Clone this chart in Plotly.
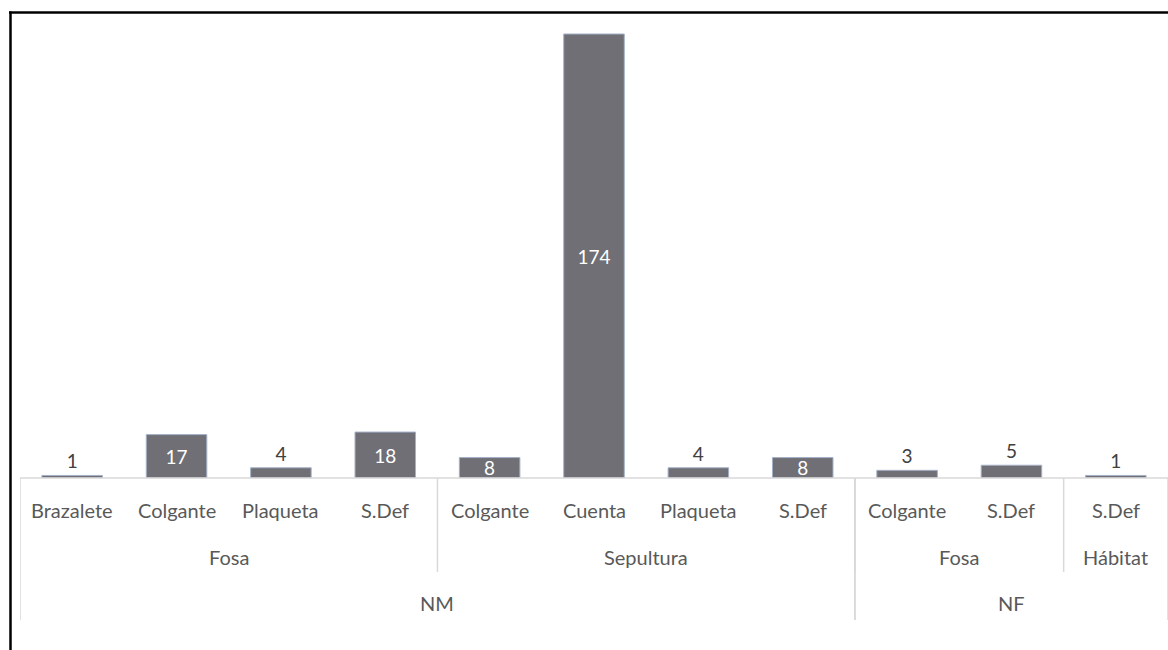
import plotly.graph_objects as go

# Three-level category hierarchy and counts
nivel_1 = ["NM"] * 8 + ["NF"] * 3
nivel_2 = ["Fosa"] * 4 + ["Sepultura"] * 4 + ["Fosa", "Fosa", "Hábitat"]
tipo = ["Brazalete", "Colgante", "Plaqueta", "S.Def",
        "Colgante", "Cuenta", "Plaqueta", "S.Def",
        "Colgante", "S.Def", "S.Def"]
valores = [1, 17, 4, 18, 8, 174, 4, 8, 3, 5, 1]

W, H = 1168, 650
M_L, M_R, M_T, M_B = 20, 0, 14, 172
plot_h = H - M_T - M_B
FONT = "Lato"
GRID = "#d9d9d9"
TXT = "#595959"
LBL_SIZE = 20


def py(pixel_y):
    # pixel row -> paper y
    return (H - M_B - pixel_y) / plot_h


def grupos(labels, keys):
    # contiguous runs of identical keys -> (label, first index, last index)
    out = []
    start = 0
    for i in range(1, len(keys) + 1):
        if i == len(keys) or keys[i] != keys[start]:
            out.append((labels[start], start, i - 1))
            start = i
    return out


x = list(range(len(valores)))
pos = ["inside" if v >= 8 else "outside" for v in valores]

fig = go.Figure(go.Bar(
    x=x, y=valores, width=0.58,
    marker=dict(color="#6f6f75", line=dict(color="#a3b1c6", width=1)),
    text=[str(v) for v in valores], textposition=pos, textangle=0,
    insidetextanchor="middle", constraintext="none",
    insidetextfont=dict(family=FONT, size=19, color="#ffffff"),
    outsidetextfont=dict(family=FONT, size=19, color="#404040"),
    cliponaxis=False, hoverinfo="skip",
))

annotations = []
shapes = []

# level 1: item labels
for i, t in enumerate(tipo):
    annotations.append(dict(x=i, y=py(510), xref="x", yref="paper", text=t,
                            showarrow=False, yanchor="middle",
                            font=dict(family=FONT, size=LBL_SIZE, color=TXT)))

# level 2: context labels (grouped within level-3 blocks)
keys2 = [a + "|" + b for a, b in zip(nivel_1, nivel_2)]
for lab, a, b in grupos(nivel_2, keys2):
    annotations.append(dict(x=(a + b) / 2, y=py(557), xref="x", yref="paper",
                            text=lab, showarrow=False, yanchor="middle",
                            font=dict(family=FONT, size=LBL_SIZE, color=TXT)))
    if a > 0:
        shapes.append(dict(type="line", xref="x", yref="paper",
                           x0=a - 0.5, x1=a - 0.5, y0=py(478), y1=py(572),
                           line=dict(color=GRID, width=1.5)))

# level 3: site labels
for lab, a, b in grupos(nivel_1, nivel_1):
    annotations.append(dict(x=(a + b) / 2, y=py(603), xref="x", yref="paper",
                            text=lab, showarrow=False, yanchor="middle",
                            font=dict(family=FONT, size=LBL_SIZE, color=TXT)))
    for edge in (a - 0.5, b + 0.5):
        shapes.append(dict(type="line", xref="x", yref="paper",
                           x0=edge, x1=edge, y0=py(478), y1=py(620),
                           line=dict(color=GRID, width=1.5)))

# category axis baseline
shapes.append(dict(type="line", xref="paper", yref="paper", x0=0, x1=1,
                   y0=0, y1=0, line=dict(color=GRID, width=1.5)))

# outer frame (top and left)
shapes.append(dict(type="line", xref="paper", yref="paper",
                   x0=(9 - M_L) / (W - M_L), x1=1.01, y0=py(12.5), y1=py(12.5),
                   line=dict(color="#000000", width=2.5)))
shapes.append(dict(type="line", xref="paper", yref="paper",
                   x0=(10.5 - M_L) / (W - M_L), x1=(10.5 - M_L) / (W - M_L),
                   y0=py(11.5), y1=py(660), line=dict(color="#000000", width=2.5)))

ymax = 174 * plot_h / (478 - 34)
fig.update_layout(
    width=W, height=H, autosize=False,
    margin=dict(l=M_L, r=M_R, t=M_T, b=M_B),
    paper_bgcolor="white", plot_bgcolor="white",
    showlegend=False, bargap=0.42,
    xaxis=dict(range=[-0.5, len(valores) - 0.5], showticklabels=False,
               showgrid=False, zeroline=False, showline=False, ticks=""),
    yaxis=dict(range=[0, ymax], visible=False),
    annotations=annotations, shapes=shapes,
)

fig.write_html("out.html")
